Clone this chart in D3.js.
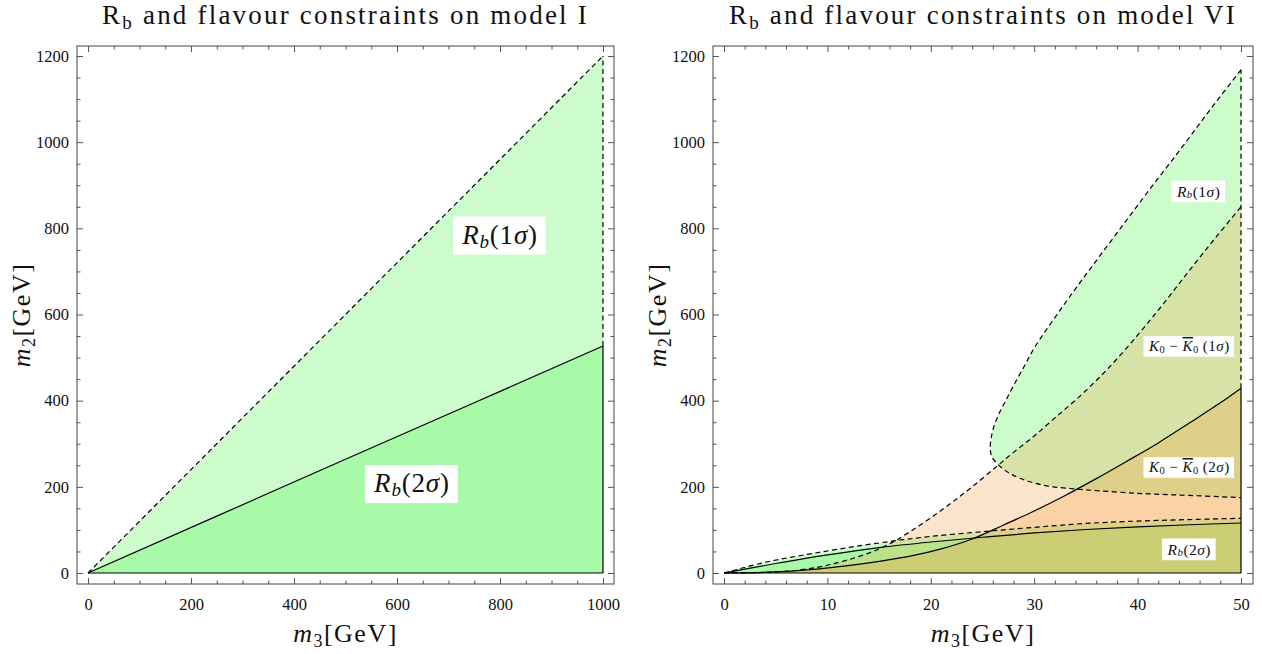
<!DOCTYPE html>
<html><head><meta charset="utf-8">
<script src="https://cdn.jsdelivr.net/npm/d3@7/dist/d3.min.js"></script>
<style>
body{margin:0;background:#fff}
svg{display:block}
text{font-family:"Liberation Serif","DejaVu Serif",serif;fill:#111}
</style>
</head><body>
<svg id="c" width="1262" height="654"></svg>
<script>
// ---------- DATA ----------
// Left panel (model I)
const leftM3 = [0, 250, 500, 750, 1000];
const leftRb1 = [0, 300, 600, 900, 1200];   // dashed upper boundary (1 sigma)
const leftRb2 = [0, 132, 264, 395, 527];    // solid boundary (2 sigma)

// Right panel (model VI)
const d1M3 = [0, 4, 8, 12, 16, 20, 25, 30, 35, 40, 45, 50];           // Rb 1σ lower band (dashed)
const d1M2 = [0, 25, 43, 59, 73, 85, 96, 106, 115, 120.5, 124, 127];
const s1M3 = [0, 2, 5, 10, 15, 20, 25, 30, 35, 40, 45, 50];           // Rb 2σ (solid)
const s1M2 = [0, 9, 22, 42, 59, 72, 83, 93, 101, 107, 112, 116];
const k1M3 = [0, 3, 6, 9, 11, 13, 15, 16.5, 18, 20, 22, 24, 26.5, 28, 30, 32, 34.4, 37, 40, 42.5, 45, 47.5, 50]; // K 1σ (dashed)
const k1M2 = [0, 1, 4, 13, 24, 38, 56, 74, 96, 128, 163, 200, 250, 280, 318, 360, 410, 471, 552, 625, 702, 777, 850];
const k2M3 = [0, 3, 6, 9, 12, 15, 18, 21, 24, 27, 30, 33, 36, 39, 42, 45, 48, 50]; // K 2σ (solid)
const k2M2 = [0, 1, 4, 9, 17, 27, 39, 56, 79, 111, 144, 180, 219, 260, 302, 348, 395, 429];
const pUpM3 = [25.75, 25.85, 26.1, 26.6, 27.2, 28, 29, 30, 32.5, 35.1, 38, 40.9, 44.1, 47, 50]; // Rb 1σ island, upper branch
const pUpM2 = [290, 315, 340, 370, 398, 435, 478, 522, 610, 696, 789, 882, 982, 1075, 1168];
const pLoM3 = [25.75, 25.9, 26.5, 27.5, 28.6, 30, 31.5, 33, 35, 40, 45, 50];   // lower branch
const pLoM2 = [290, 270, 252, 233, 220, 209, 201, 197, 193, 185, 180, 175];

// Ticks
const leftXMajor = [0, 200, 400, 600, 800, 1000];
const leftXMinor = d3.range(0, 1001, 50).filter(v => v % 200 !== 0);
const rightXMajor = [0, 10, 20, 30, 40, 50];
const rightXMinor = d3.range(0, 51, 2).filter(v => v % 10 !== 0);
const yMajor = [0, 200, 400, 600, 800, 1000, 1200];
const yMinor = d3.range(0, 1201, 50).filter(v => v % 200 !== 0);

const zip = (a, b) => a.map((v, i) => [v, b[i]]);

// ---------- STYLE ----------
const GREEN = "rgb(85,245,85)", GREEN_OP = 0.3;
const ORANGE = "rgb(247,151,51)", ORANGE_OP = 0.25;
const DASH = "5,3.5";
const LW = 1.2;

const svg = d3.select("#c");
const FT = 46, FB = 584;

function makePanel(xDomain, xRange, frameX, xMajor, xMinor, title, id) {
  const x = d3.scaleLinear().domain(xDomain).range(xRange);
  const y = d3.scaleLinear().domain([0, 1200]).range([573, 56]);
  const g = svg.append("g");
  const [fl, fr] = frameX;
  g.append("clipPath").attr("id", id).append("rect")
    .attr("x", fl).attr("y", FT).attr("width", fr - fl).attr("height", FB - FT);
  const plot = g.append("g").attr("clip-path", `url(#${id})`);
  const axes = g.append("g");

  function styleAxis(sel) {
    sel.select(".domain").remove();
    sel.selectAll(".tick line").attr("stroke", "#555").attr("stroke-width", 1);
    sel.selectAll(".tick text").attr("font-size", 16.5).attr("fill", "#222")
      .style("font-family", '"Liberation Serif","DejaVu Serif",serif');
  }
  const fmt = d3.format("d");
  axes.append("g").attr("transform", `translate(0,${FB})`)
    .call(d3.axisBottom(x).tickValues(xMajor).tickSize(-6).tickPadding(14).tickFormat(fmt)).call(styleAxis);
  axes.append("g").attr("transform", `translate(0,${FB})`)
    .call(d3.axisBottom(x).tickValues(xMinor).tickSize(-3.5).tickFormat("")).call(styleAxis);
  axes.append("g").attr("transform", `translate(0,${FT})`)
    .call(d3.axisTop(x).tickValues(xMajor).tickSize(-6).tickFormat("")).call(styleAxis);
  axes.append("g").attr("transform", `translate(0,${FT})`)
    .call(d3.axisTop(x).tickValues(xMinor).tickSize(-3.5).tickFormat("")).call(styleAxis);
  axes.append("g").attr("transform", `translate(${fl},0)`)
    .call(d3.axisLeft(y).tickValues(yMajor).tickSize(-6).tickPadding(8).tickFormat(fmt)).call(styleAxis);
  axes.append("g").attr("transform", `translate(${fl},0)`)
    .call(d3.axisLeft(y).tickValues(yMinor).tickSize(-3.5).tickFormat("")).call(styleAxis);
  axes.append("g").attr("transform", `translate(${fr},0)`)
    .call(d3.axisRight(y).tickValues(yMajor).tickSize(-6).tickFormat("")).call(styleAxis);
  axes.append("g").attr("transform", `translate(${fr},0)`)
    .call(d3.axisRight(y).tickValues(yMinor).tickSize(-3.5).tickFormat("")).call(styleAxis);
  axes.append("rect").attr("x", fl).attr("y", FT).attr("width", fr - fl).attr("height", FB - FT)
    .attr("fill", "none").attr("stroke", "#444").attr("stroke-width", 1);

  const cx = (fl + fr) / 2;
  // title
  const t = g.append("text").attr("x", cx).attr("y", 24).attr("text-anchor", "middle").attr("font-size", 27)
    .attr("letter-spacing", 2.2);
  t.append("tspan").text("R");
  t.append("tspan").attr("font-size", 19).attr("dy", 5).text("b");
  t.append("tspan").attr("dy", -5).text(" and flavour constraints on model " + title);
  // x label
  const xl = g.append("text").attr("x", cx).attr("y", 642).attr("text-anchor", "middle").attr("font-size", 26)
    .attr("letter-spacing", 1.5);
  xl.append("tspan").attr("font-style", "italic").text("m");
  xl.append("tspan").attr("font-size", 18).attr("dy", 5).text("3");
  xl.append("tspan").attr("dy", -5).text("[GeV]");
  // y label
  const yl = g.append("text").attr("transform", `translate(${fl - 47},315) rotate(-90)`)
    .attr("text-anchor", "middle").attr("font-size", 26).attr("letter-spacing", 1.5);
  yl.append("tspan").attr("font-style", "italic").text("m");
  yl.append("tspan").attr("font-size", 18).attr("dy", 5).text("2");
  yl.append("tspan").attr("dy", -5).text("[GeV]");

  return { x, y, g, plot };
}

function label(p, mx, my, size, parts) {
  const lg = p.g.append("g");
  const t = lg.append("text").attr("x", p.x(mx)).attr("y", p.y(my))
    .attr("text-anchor", "middle").attr("dominant-baseline", "central").attr("font-size", size)
    .attr("letter-spacing", size * 0.03);
  parts.forEach(([txt, kind]) => {
    const s = t.append("tspan").text(txt);
    if (kind === "i") s.attr("font-style", "italic");
    if (kind === "ibar") s.attr("font-style", "italic").style("text-decoration", "overline");
    if (kind === "sub") s.attr("font-size", size * 0.7).attr("dy", size * 0.22);
    if (kind === "isub") s.attr("font-size", size * 0.7).attr("dy", size * 0.22).attr("font-style", "italic");
    if (kind === "up") s.attr("dy", -size * 0.22);
  });
  const bb = t.node().getBBox();
  const px = size * 0.3, py = size * 0.12;
  lg.insert("rect", "text").attr("x", bb.x - px).attr("y", bb.y - py)
    .attr("width", bb.width + 2 * px).attr("height", bb.height + 2 * py).attr("fill", "#fff");
}

// ---------- LEFT PANEL ----------
{
  const p = makePanel([0, 1000], [88, 603], [77, 614], leftXMajor, leftXMinor, "I", "clipL");
  const { x, y, plot } = p;
  const area = d3.area().x(d => x(d[0])).y0(y(0)).y1(d => y(d[1]));
  const line = d3.line().x(d => x(d[0])).y(d => y(d[1]));
  plot.append("path").attr("d", area(zip(leftM3, leftRb1))).attr("fill", GREEN).attr("fill-opacity", GREEN_OP);
  plot.append("path").attr("d", area(zip(leftM3, leftRb2))).attr("fill", GREEN).attr("fill-opacity", GREEN_OP);
  const last = leftM3.length - 1;
  const xe = leftM3[last];
  plot.append("path").attr("d", line(zip(leftM3, leftRb1))).attr("fill", "none").attr("stroke", "#000").attr("stroke-width", LW).attr("stroke-dasharray", DASH);
  plot.append("path").attr("d", line([[xe, leftRb2[last]], [xe, leftRb1[last]]])).attr("fill", "none").attr("stroke", "#000").attr("stroke-width", LW).attr("stroke-dasharray", DASH);
  plot.append("path").attr("d", line(zip(leftM3, leftRb2))).attr("fill", "none").attr("stroke", "#000").attr("stroke-width", LW);
  plot.append("path").attr("d", line([[xe, 0], [xe, leftRb2[last]]])).attr("fill", "none").attr("stroke", "#000").attr("stroke-width", LW);
  plot.append("path").attr("d", line([[0, 0], [xe, 0]])).attr("fill", "none").attr("stroke", "#000").attr("stroke-width", LW);

  label(p, 800, 785, 27, [["R", "i"], ["b", "isub"], ["(1", "up"], ["σ", "i"], [")", ""]]);
  label(p, 629, 208, 27, [["R", "i"], ["b", "isub"], ["(2", "up"], ["σ", "i"], [")", ""]]);
}

// ---------- RIGHT PANEL ----------
{
  const p = makePanel([0, 50], [724, 1241], [713, 1253], rightXMajor, rightXMinor, "VI", "clipR");
  const { x, y, plot } = p;
  const curve = d3.curveCatmullRom.alpha(0.5);
  const area = d3.area().x(d => x(d[0])).y0(y(0)).y1(d => y(d[1])).curve(curve);
  const line = d3.line().x(d => x(d[0])).y(d => y(d[1])).curve(curve);
  const lineL = d3.line().x(d => x(d[0])).y(d => y(d[1]));

  const D1 = zip(d1M3, d1M2), S1 = zip(s1M3, s1M2), K1 = zip(k1M3, k1M2), K2 = zip(k2M3, k2M2);
  const island = zip(pUpM3, pUpM2).reverse().concat(zip(pLoM3, pLoM2).slice(1));

  // Rb 1σ layer: lower band + island
  plot.append("path").attr("d", area(D1) + line(island) + "Z").attr("fill", GREEN).attr("fill-opacity", GREEN_OP);
  // Rb 2σ
  plot.append("path").attr("d", area(S1)).attr("fill", GREEN).attr("fill-opacity", GREEN_OP);
  // K 1σ
  plot.append("path").attr("d", area(K1)).attr("fill", ORANGE).attr("fill-opacity", ORANGE_OP);
  // K 2σ
  plot.append("path").attr("d", area(K2)).attr("fill", ORANGE).attr("fill-opacity", ORANGE_OP);

  const dashed = (d) => plot.append("path").attr("d", d).attr("fill", "none").attr("stroke", "#000").attr("stroke-width", LW).attr("stroke-dasharray", DASH);
  const solid = (d) => plot.append("path").attr("d", d).attr("fill", "none").attr("stroke", "#000").attr("stroke-width", LW);

  dashed(line(D1));
  dashed(line(island));
  dashed(line(K1));
  const xe = 50;
  dashed(lineL([[xe, k2M2[k2M2.length - 1]], [xe, pUpM2[pUpM2.length - 1]]]));
  solid(line(S1));
  solid(line(K2));
  solid(lineL([[xe, 0], [xe, k2M2[k2M2.length - 1]]]));
  solid(lineL([[0, 0], [xe, 0]]));

  label(p, 45.9, 887, 15.5, [["R", "i"], ["b", "isub"], ["(1", "up"], ["σ", "i"], [")", ""]]);
  label(p, 45.0, 527, 15, [["K", "i"], ["0", "sub"], [" − ", "up"], ["K", "ibar"], ["0", "sub"], [" (1", "up"], ["σ", "i"], [")", ""]]);
  label(p, 45.0, 246, 15, [["K", "i"], ["0", "sub"], [" − ", "up"], ["K", "ibar"], ["0", "sub"], [" (2", "up"], ["σ", "i"], [")", ""]]);
  label(p, 45.0, 56, 15.5, [["R", "i"], ["b", "isub"], ["(2", "up"], ["σ", "i"], [")", ""]]);
}
</script>
</body></html>
